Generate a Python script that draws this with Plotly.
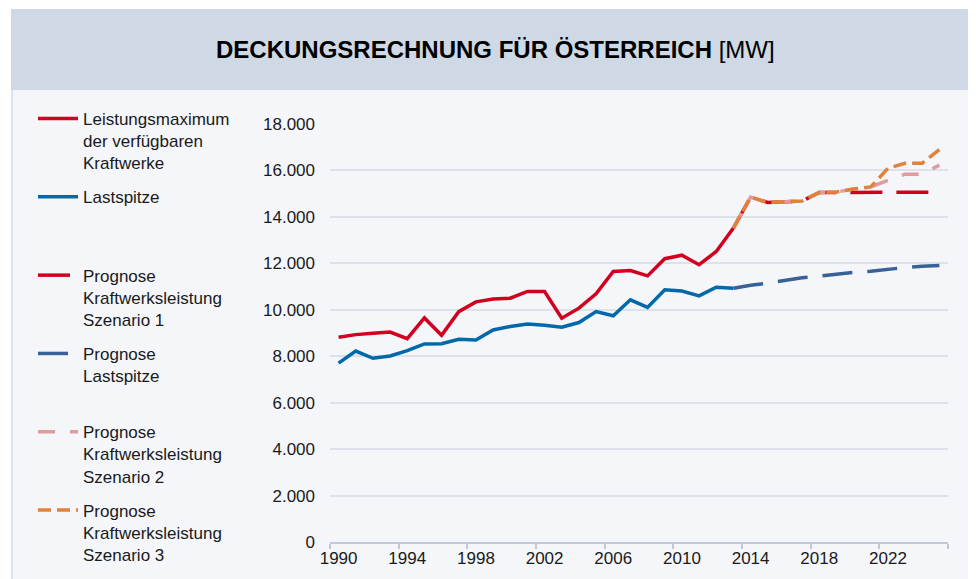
"""Deckungsrechnung für Österreich – Leistungsmaximum vs. Lastspitze mit Prognosen."""
import plotly.graph_objects as go

W, H = 976, 579
PAGE_OFF = 8  # default body margin of the html page
FONT = dict(family="Liberation Sans, Arial, sans-serif", color="#1a1a1a")

years = [str(y) for y in range(1990, 2026)]

# historical values 1990-2013 [MW]
leistungsmaximum = [8820, 8930, 8990, 9040, 8760, 9650, 8900, 9920, 10340, 10460,
                    10500, 10790, 10790, 9640, 10070, 10690, 11650, 11690, 11460,
                    12200, 12350, 11940, 12510, 13520]
lastspitze = [7700, 8220, 7910, 8010, 8240, 8530, 8540, 8730, 8700, 9130, 9280,
              9390, 9330, 9250, 9450, 9920, 9740, 10430, 10100, 10860, 10810,
              10600, 10970, 10930]

# forecasts 2013-2025 [MW]
prognose_last = [10930, 11060, 11150, 11260, 11380, 11450, 11540, 11610, 11660,
                 11750, 11820, 11870, 11910]
szenario_1 = [13520, 14850, 14620, 14640, 14680, 15050, 15060, 15060, 15060,
              15060, 15060, 15060, 15060]
szenario_2 = [13520, 14850, 14620, 14640, 14680, 15050, 15070, 15200, 15290,
              15570, 15840, 15840, 16230]
szenario_3 = [13520, 14850, 14620, 14640, 14680, 15050, 15070, 15200, 15290,
              16090, 16310, 16310, 16900]

hist_pad = [None] * (len(years) - len(leistungsmaximum))
prog_pad = [None] * (len(years) - len(prognose_last))

# plot area in page pixels
L, R, T, B = 330, 948, 124, 542


def px_x(x):
    return (x - L) / (R - L)


def px_y(y):
    return (B - y) / (B - T)


series = [
    ("Leistungsmaximum<br>der verfügbaren<br>Kraftwerke", leistungsmaximum + hist_pad, "#d2001e", "solid"),
    ("Lastspitze<br>\u00a0<br>\u00a0", lastspitze + hist_pad, "#0069aa", "solid"),
    ("Prognose<br>Kraftwerksleistung<br>Szenario 1", prog_pad + szenario_1, "#d2001e", "32px,14px"),
    ("Prognose<br>Lastspitze<br>\u00a0", prog_pad + prognose_last, "#386195", "30px,15px"),
    ("Prognose<br>Kraftwerksleistung<br>Szenario 2", prog_pad + szenario_2, "#e09b9f", "17px,15px"),
    ("Prognose<br>Kraftwerksleistung<br>Szenario 3", prog_pad + szenario_3, "#e1823b", "13px,6px"),
]

fig = go.Figure()
for i, (name, vals, color, dash) in enumerate(series):
    fig.add_trace(go.Scatter(
        x=years, y=vals, mode="lines", name=name, legendgroup=f"g{i}",
        line=dict(color=color, width=3.5, dash=dash),
    ))

shapes = [
    dict(type="rect", xref="paper", yref="paper", layer="below", line_width=0,
         x0=px_x(11), x1=px_x(W), y0=px_y(H), y1=px_y(90), fillcolor="#f4f6fa"),
    dict(type="rect", xref="paper", yref="paper", layer="below", line_width=0,
         x0=px_x(11), x1=px_x(W), y0=px_y(90), y1=px_y(9), fillcolor="#cfd9e5"),
    dict(type="line", xref="paper", yref="paper", layer="below",
         x0=px_x(12), x1=px_x(12), y0=px_y(H), y1=px_y(90),
         line=dict(color="#d5dce6", width=1.5)),
]

fig.update_layout(
    width=W, height=H,
    margin=dict(l=L - PAGE_OFF, r=W + PAGE_OFF - R, t=T - PAGE_OFF,
                b=H + PAGE_OFF - B, autoexpand=False),
    paper_bgcolor="white", plot_bgcolor="rgba(0,0,0,0)",
    font=dict(FONT, size=17),
    separators=",.",
    shapes=shapes,
    showlegend=True,
    legend=dict(
        x=px_x(33), xanchor="left",
        yref="container", y=1 - (101 - PAGE_OFF) / H, yanchor="top",
        traceorder="grouped", tracegroupgap=9, valign="top", maxheight=600,
        font=dict(FONT, size=17), bgcolor="rgba(0,0,0,0)", itemwidth=40,
    ),
    annotations=[dict(
        text="<b>DECKUNGSRECHNUNG FÜR ÖSTERREICH</b> [MW]",
        xref="paper", yref="paper", x=px_x(495), y=px_y(49),
        xanchor="center", yanchor="middle",
        showarrow=False, font=dict(FONT, size=24, color="black"),
    )],
)

fig.update_xaxes(
    type="category", range=[-0.5, len(years) - 0.5],
    tickson="boundaries", dtick=4, tick0=0, tickangle=0,
    showgrid=False, showline=True, linecolor="#bfcad8", linewidth=2,
    ticks="outside", ticklen=5, tickwidth=2, tickcolor="#bfcad8",
    tickfont=dict(FONT, size=17),
)
fig.update_yaxes(
    range=[0, 18000], dtick=2000, tickformat=",d",
    showgrid=True, gridcolor="#dde2ea", gridwidth=1.5, zeroline=False,
    ticklabelstandoff=14, tickfont=dict(FONT, size=17),
)

fig.write_html("out.html")
